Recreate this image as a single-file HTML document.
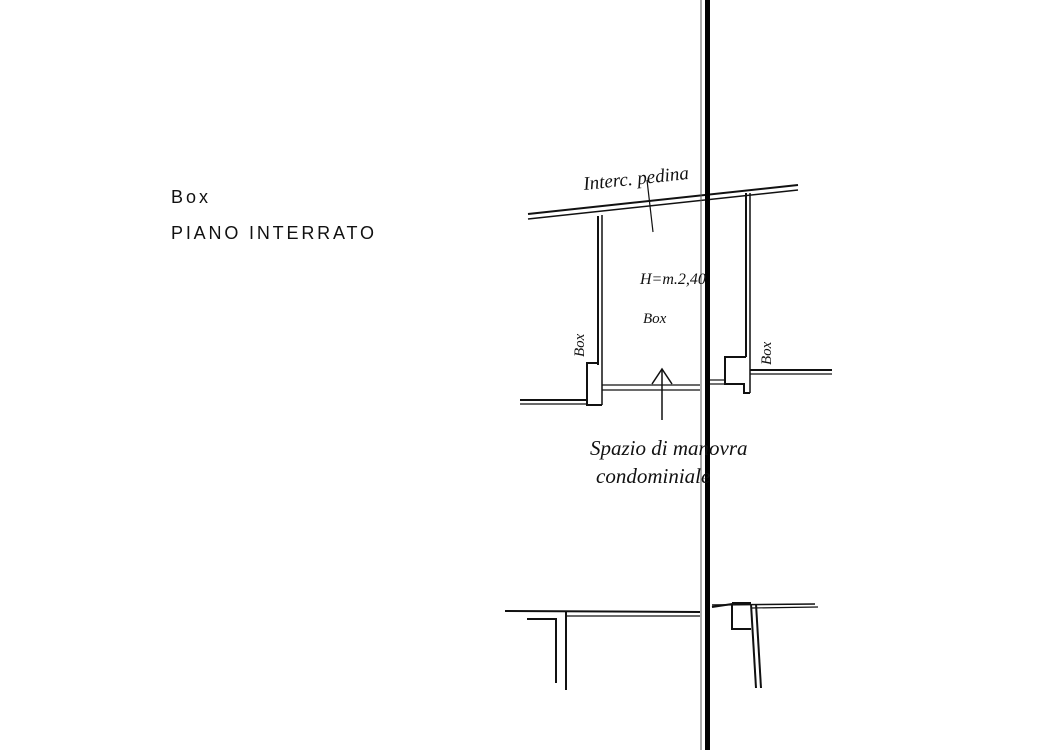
<!DOCTYPE html>
<html><head><meta charset="utf-8"><style>
html,body{margin:0;padding:0;background:#fff;}
svg{display:block}
text{font-family:"Liberation Sans",sans-serif;fill:#111}
.h{font-family:"Liberation Serif",serif;font-style:italic}
</style></head><body>
<svg width="1042" height="750" viewBox="0 0 1042 750" xmlns="http://www.w3.org/2000/svg">
<g stroke="#111" fill="none" stroke-width="2">
<line x1="528" y1="214" x2="798" y2="185"/>
<line x1="528" y1="219" x2="798" y2="190" stroke-width="1.5"/>
<line x1="598" y1="216" x2="598" y2="365"/>
<line x1="602" y1="215" x2="602" y2="405" stroke-width="1.5"/>
<polyline points="598,363 587,363 587,405 602,405"/>
<line x1="520" y1="400" x2="587" y2="400"/>
<line x1="520" y1="404" x2="587" y2="404" stroke-width="1.2"/>
<line x1="602" y1="385" x2="700" y2="385" stroke-width="1.2"/>
<line x1="602" y1="390" x2="700" y2="390" stroke-width="1.2"/>
<line x1="710" y1="380" x2="725" y2="380" stroke-width="1.2"/>
<line x1="710" y1="384" x2="725" y2="384" stroke-width="1.2"/>
<line x1="746" y1="193" x2="746" y2="357"/>
<line x1="750" y1="193" x2="750" y2="393" stroke-width="1.5"/>
<polyline points="746,357 725,357 725,384 744,384 744,393 750,393"/>
<line x1="750" y1="370" x2="832" y2="370"/>
<line x1="750" y1="374" x2="832" y2="374" stroke-width="1.2"/>
<line x1="662" y1="370" x2="662" y2="420" stroke-width="1.5"/>
<polyline points="652,384 662,369 672,384" stroke-width="1.5"/>
<line x1="647" y1="180" x2="653" y2="232" stroke-width="1.2"/>
<line x1="505" y1="611" x2="700" y2="612"/>
<line x1="567" y1="616" x2="700" y2="616" stroke-width="1.2"/>
<polyline points="527,619 556,619 556,683"/>
<line x1="566" y1="612" x2="566" y2="690"/>
<line x1="712" y1="605" x2="815" y2="604" stroke-width="1.5"/>
<line x1="752" y1="608" x2="818" y2="607" stroke-width="1.2"/>
<polyline points="712,607 732,604 732,629 751,629"/>
<line x1="732" y1="603" x2="751" y2="603"/>
<line x1="751" y1="604" x2="756" y2="688"/>
<line x1="756" y1="604" x2="761" y2="688"/>
</g>
<line x1="701" y1="0" x2="701" y2="750" stroke="#555" stroke-width="1"/>
<rect x="705" y="0" width="5" height="750" fill="#000"/>
<text x="171" y="203" font-size="18" letter-spacing="3">Box</text>
<text x="171" y="239" font-size="18" letter-spacing="1" textLength="204" lengthAdjust="spacing">PIANO INTERRATO</text>
<text class="h" x="584" y="190" font-size="19" transform="rotate(-6 584 190)">Interc. pedina</text>
<text class="h" x="640" y="284" font-size="16">H=m.2,40</text>
<text class="h" x="643" y="323" font-size="15">Box</text>
<text class="h" x="0" y="0" font-size="15" transform="translate(584 357) rotate(-90)">Box</text>
<text class="h" x="0" y="0" font-size="15" transform="translate(771 365) rotate(-90)">Box</text>
<text class="h" x="590" y="455" font-size="21">Spazio di manovra</text>
<text class="h" x="596" y="483" font-size="21">condominiale</text>
</svg>
</body></html>
